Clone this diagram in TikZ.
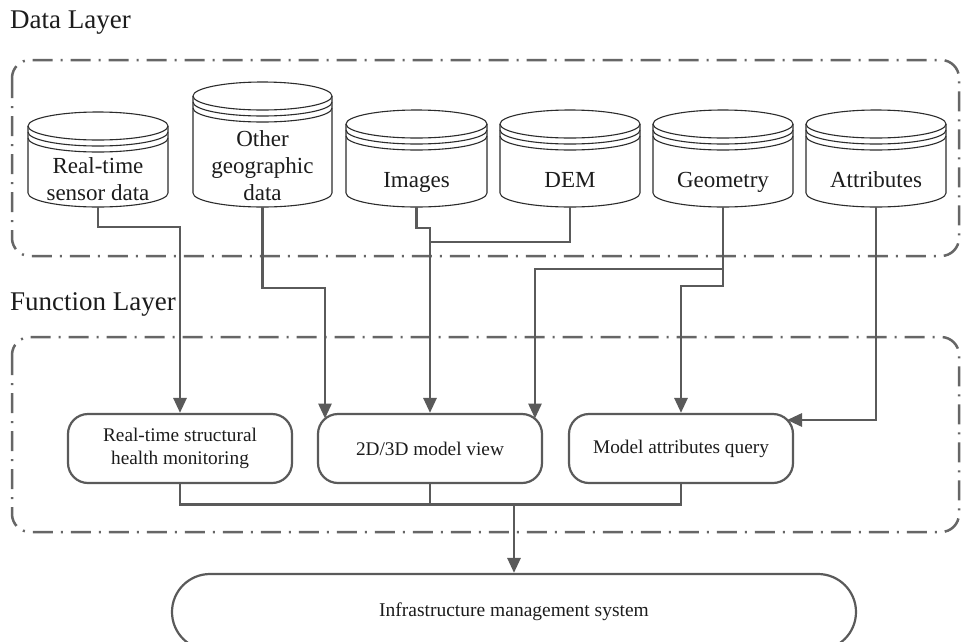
\documentclass[tikz,border=0pt]{standalone}
\usepackage{fontspec}
\setmainfont{Liberation Serif}
\usetikzlibrary{arrows.meta}

\definecolor{lineg}{HTML}{5A5A5A}
\definecolor{frameg}{HTML}{666666}
\definecolor{cylg}{HTML}{2C2C2C}
\definecolor{inkc}{HTML}{1C1C1C}

\tikzset{
  layerframe/.style={draw=frameg, line width=2.5pt, rounded corners=18pt,
    dash pattern=on 20pt off 8pt on 2pt off 8pt},
  layerlabel/.style={inner sep=0pt, text=inkc, font=\fontsize{27}{31}\selectfont},
  cyl/.style={draw=cylg, line width=1.1pt},
  dbtext/.style={inner sep=0pt, anchor=base, text=inkc, font=\fontsize{23}{27}\selectfont},
  funcbox/.style={draw=lineg, line width=2.2pt, rounded corners=20pt, fill=white,
    minimum width=224pt, minimum height=69pt, inner sep=0pt, align=center,
    text=inkc, font=\fontsize{19.3}{23}\selectfont},
  sysbox/.style={draw=lineg, line width=2.2pt, rounded corners=38pt,
    minimum width=684pt, minimum height=76pt, inner sep=0pt,
    text=inkc, font=\fontsize{19.5}{23}\selectfont},
  conn/.style={draw=lineg, line width=2.9pt},
  arr/.style={conn, -{Triangle[length=15pt,width=13pt]}}
}

% database cylinder: left x, right x, top of lid, bottom of side wall
\newcommand\dbcyl[4]{%
  \pgfmathsetmacro\cylcx{(#1+#2)/2}%
  \pgfmathsetmacro\cylrx{(#2-#1)/2}%
  \draw[cyl] (\cylcx,#3+14) ellipse [x radius=\cylrx pt, y radius=14pt];
  \draw[cyl] (#1,#3+20) arc[start angle=180, end angle=360, x radius=\cylrx pt, y radius=14pt];
  \draw[cyl] (#1,#3+26) arc[start angle=180, end angle=360, x radius=\cylrx pt, y radius=14pt];
  \draw[cyl] (#1,#3+14) -- (#1,#4)
    arc[start angle=180, end angle=360, x radius=\cylrx pt, y radius=14pt] -- (#2,#3+14);
}

\begin{document}
\begin{tikzpicture}[x=1pt, y=-1pt]
\useasboundingbox (0,0) rectangle (962,641);
\fill[white] (0,0) rectangle (962,641);

% layer frames and their titles
\draw[layerframe] (12,60) rectangle (959,256);
\draw[layerframe] (12,337) rectangle (959,532);
\node[layerlabel, anchor=base west] (datalayer) at (10,28) {Data Layer};
\node[layerlabel, anchor=base west] (funclayer) at (10,310) {Function Layer};

% data sources
\dbcyl{28}{168}{112}{193}
\dbcyl{193}{332}{82}{193}
\dbcyl{346}{487}{110}{193}
\dbcyl{500}{640}{110}{193}
\dbcyl{653}{793}{110}{193}
\dbcyl{806}{946}{110}{193}

\node[dbtext] (sensor) at (98,200) {\begin{tabular}[b]{@{}c@{}}Real-time\\sensor data\end{tabular}};
\node[dbtext] (othergeo) at (262.5,200) {\begin{tabular}[b]{@{}c@{}}Other\\geographic\\data\end{tabular}};
\node[dbtext] (images) at (416.5,187) {Images};
\node[dbtext] (dem) at (570,187) {DEM};
\node[dbtext] (geom) at (723,187) {Geometry};
\node[dbtext] (attr) at (876,187) {Attributes};

\coordinate (sensor-out) at (98,207);
\coordinate (othergeo-out) at (262.5,207);
\coordinate (images-out) at (416.5,207);
\coordinate (dem-out) at (570,207);
\coordinate (geom-out) at (723,207);
\coordinate (attr-out) at (876,207);

% functions
\node[funcbox] (monitor) at (180,448.5) {Real-time structural\\health monitoring};
\node[funcbox] (view) at (430,448.5) {2D/3D model view};
\node[funcbox] (query) at (681,448.5) {Model attributes query};

\node[sysbox] (ims) at (514,612) {Infrastructure management system};

% entry points on the rounded corners
\coordinate (view-inl) at (325,418.5);
\coordinate (view-inr) at (535,418.5);
\coordinate (query-inr) at (787,420);
\coordinate (imgjoin) at (430,242);
\coordinate (geomsplit) at (723,269);
\coordinate (merge) at (514,503);

% data flow
\draw[arr] (sensor-out) -- ++(0,20) -| (monitor.north);
\draw[arr] (othergeo-out) -- ++(0,81) -| (view-inl);
\draw[arr] (images-out) -- ++(0,21) -| (view.north);
\draw[conn] (dem-out) |- (imgjoin);
\draw[arr] (geom-out) -- ++(0,79) -| (query.north);
\draw[arr] (geomsplit) -| (view-inr);
\draw[arr] (attr-out) |- (query-inr);

\draw[conn] (monitor.south) -- ++(0,20) -| (query.south);
\draw[conn] (view.south) -- ++(0,20);
\draw[arr] (merge) -- (ims.north);
\end{tikzpicture}
\end{document}
